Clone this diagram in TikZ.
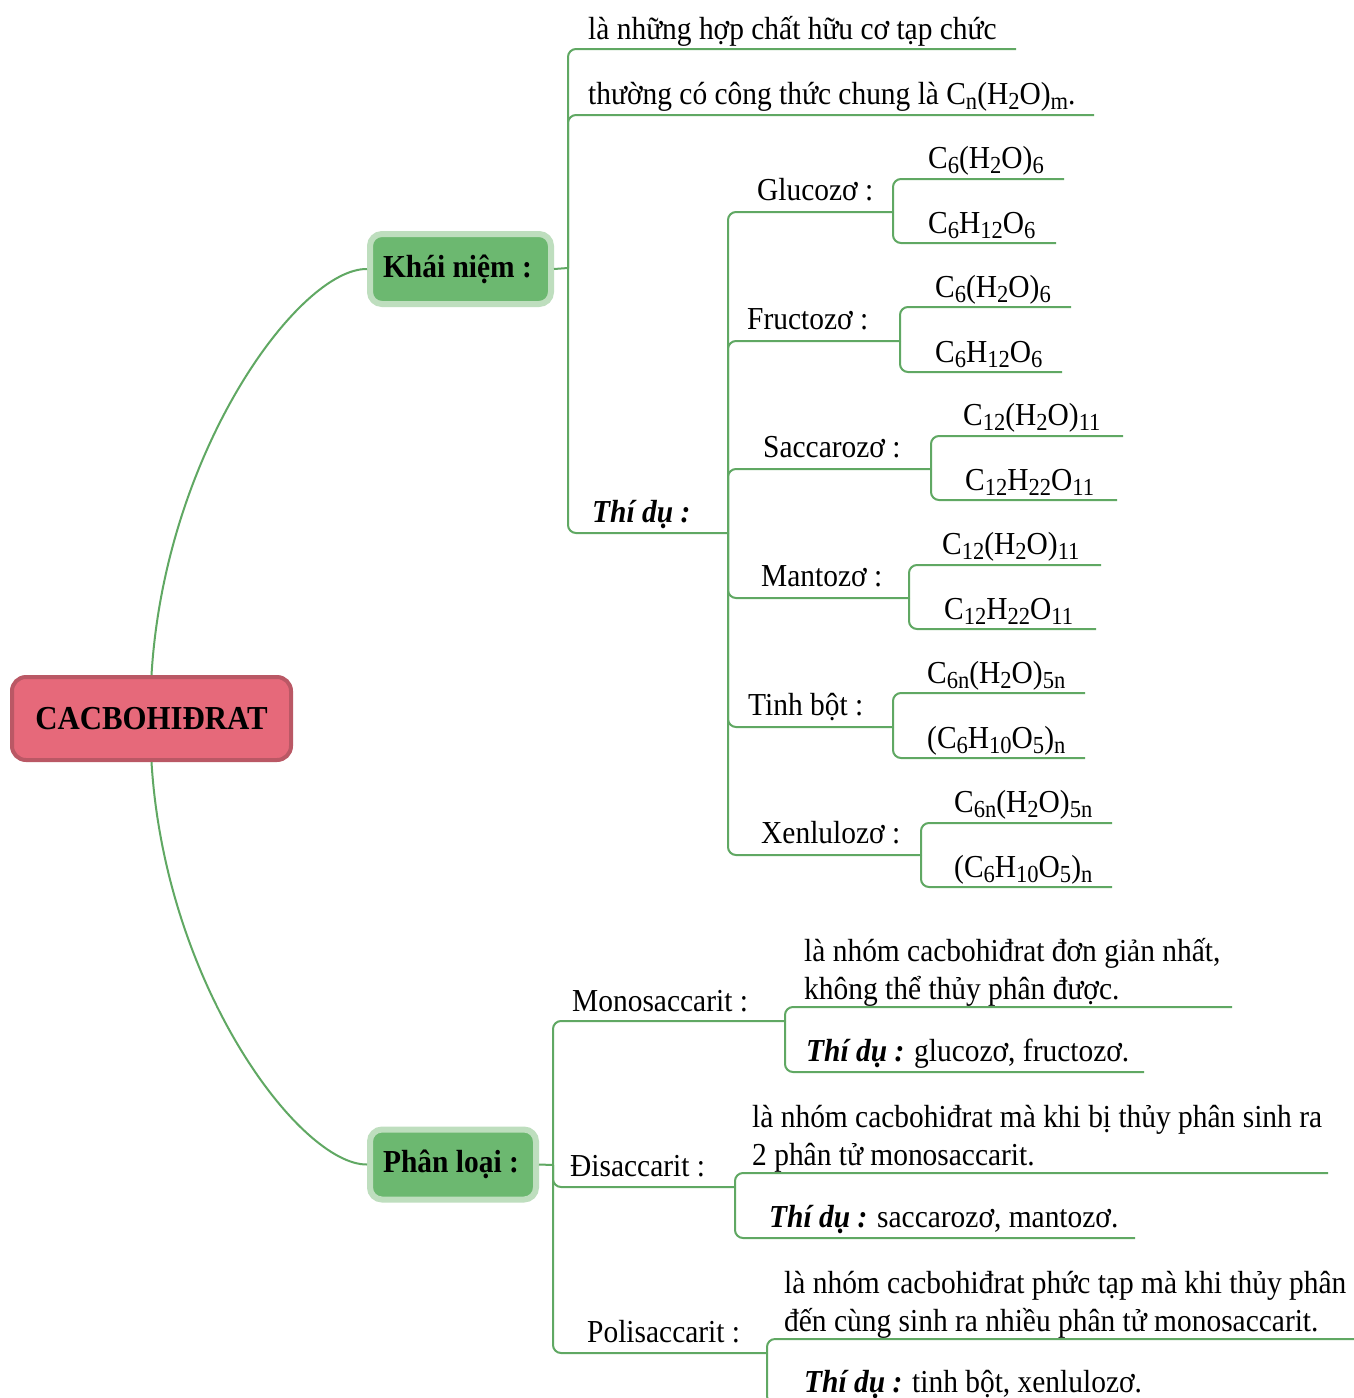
\documentclass[tikz,border=0pt]{standalone}
\usepackage{fontspec}
\setmainfont{Liberation Serif}[FakeStretch=0.92]
\definecolor{rootfill}{RGB}{230,105,122}
\definecolor{rootline}{RGB}{186,88,101}
\definecolor{boxfill}{RGB}{108,184,112}
\definecolor{boxline}{RGB}{190,222,190}
\definecolor{lgreen}{RGB}{96,168,99}
\newcommand\sbs[1]{\raisebox{-5pt}{\fontsize{24.5}{25}\selectfont #1}}
\newcommand\tdu{\textbf{\textit{Thí dụ :}}}
\begin{document}
\begin{tikzpicture}[x=1pt,y=-1pt,
  br/.style={draw=lgreen, line width=2pt, rounded corners=8pt},
  curve/.style={draw=lgreen, line width=2pt},
  txt/.style={anchor=base west, inner sep=0pt, font=\fontsize{32}{38}\selectfont},
  mtxt/.style={txt, align=left},
  rootbox/.style={draw=rootline, fill=rootfill, line width=4pt, rounded corners=14pt,
    minimum width=279pt, minimum height=83pt, inner sep=0pt, font=\fontsize{33.5}{38}\selectfont\bfseries},
  catbox/.style={draw=boxline, fill=boxfill, line width=6pt, rounded corners=12pt,
    minimum height=70pt, inner sep=0pt, font=\fontsize{32}{38}\selectfont\bfseries}]
\useasboundingbox (0,0) rectangle (1354,1398);
\fill[white] (0,0) rectangle (1354,1398);

% main nodes
\node[rootbox] (root) at (151.5,718.5) {CACBOHIĐRAT};
\node[catbox, minimum width=181pt] (kn) at (460.5,269) {Khái niệm :\hspace*{6pt}};
\node[catbox, minimum width=166pt] (pl) at (453,1164.5) {Phân loại :\hspace*{4pt}};

\draw[curve] (root.north) .. controls (165,450) and (300,268) .. (kn.west);
\draw[curve] (root.south) .. controls (165,985) and (300,1165) .. (pl.west);

% ---------- Khai niem ----------
\coordinate (jK) at (568,268);
\draw[br] (kn.east) -- (jK);
\node[txt] (k1) at (588,39) {là những hợp chất hữu cơ tạp chức};
\node[txt] (k2) at (588,104) {thường có công thức chung là C\sbs{n}(H\sbs{2}O)\sbs{m}.};
\node[txt] (td) at (592,522) {\tdu};
\coordinate (k1e) at (1016,49);
\coordinate (k2e) at (1094,115);
\coordinate (jT) at (728,533);
\draw[br] (jK) |- (k1e);
\draw[br] (jK) |- (k2e);
\draw[br] (jK) |- (jT);

% examples
\node[txt] (gl) at (757,200) {Glucozơ :};
\node[txt] (fr) at (747,329) {Fructozơ :};
\node[txt] (sa) at (763,457) {Saccarozơ :};
\node[txt] (ma) at (761,586) {Mantozơ :};
\node[txt] (tb) at (748,715) {Tinh bột :};
\node[txt] (xe) at (761,843) {Xenlulozơ :};
\coordinate (jG) at (893,212);
\coordinate (jF) at (900,341);
\coordinate (jS) at (931,469);
\coordinate (jM) at (909,598);
\coordinate (jB) at (893,727);
\coordinate (jX) at (921,855);
\foreach \j in {jG,jF,jS,jM,jB,jX} \draw[br] (jT) |- (\j);

\node[txt] (gl1) at (928,168) {C\sbs{6}(H\sbs{2}O)\sbs{6}};
\node[txt] (gl2) at (928,233) {C\sbs{6}H\sbs{12}O\sbs{6}};
\coordinate (gl1e) at (1064,179);
\coordinate (gl2e) at (1056,243);
\draw[br] (jG) |- (gl1e); \draw[br] (jG) |- (gl2e);

\node[txt] (fr1) at (935,297) {C\sbs{6}(H\sbs{2}O)\sbs{6}};
\node[txt] (fr2) at (935,362) {C\sbs{6}H\sbs{12}O\sbs{6}};
\coordinate (fr1e) at (1071,307);
\coordinate (fr2e) at (1062,372);
\draw[br] (jF) |- (fr1e); \draw[br] (jF) |- (fr2e);

\node[txt] (sa1) at (963,425) {C\sbs{12}(H\sbs{2}O)\sbs{11}};
\node[txt] (sa2) at (965,490) {C\sbs{12}H\sbs{22}O\sbs{11}};
\coordinate (sa1e) at (1123,436);
\coordinate (sa2e) at (1117,500);
\draw[br] (jS) |- (sa1e); \draw[br] (jS) |- (sa2e);

\node[txt] (ma1) at (942,554) {C\sbs{12}(H\sbs{2}O)\sbs{11}};
\node[txt] (ma2) at (944,619) {C\sbs{12}H\sbs{22}O\sbs{11}};
\coordinate (ma1e) at (1101,565);
\coordinate (ma2e) at (1096,629);
\draw[br] (jM) |- (ma1e); \draw[br] (jM) |- (ma2e);

\node[txt] (tb1) at (927,683) {C\sbs{6n}(H\sbs{2}O)\sbs{5n}};
\node[txt] (tb2) at (927,748) {(C\sbs{6}H\sbs{10}O\sbs{5})\sbs{n}};
\coordinate (tb1e) at (1085,693);
\coordinate (tb2e) at (1085,758);
\draw[br] (jB) |- (tb1e); \draw[br] (jB) |- (tb2e);

\node[txt] (xe1) at (954,812) {C\sbs{6n}(H\sbs{2}O)\sbs{5n}};
\node[txt] (xe2) at (954,877) {(C\sbs{6}H\sbs{10}O\sbs{5})\sbs{n}};
\coordinate (xe1e) at (1112,823);
\coordinate (xe2e) at (1112,887);
\draw[br] (jX) |- (xe1e); \draw[br] (jX) |- (xe2e);

% ---------- Phan loai ----------
\coordinate (jP) at (553,1165);
\draw[br] (pl.east) -- (jP);
\node[txt] (mo) at (572,1011) {Monosaccarit :};
\node[txt] (di) at (570,1176) {Đisaccarit :};
\node[txt] (po) at (587,1342) {Polisaccarit :};
\coordinate (jMo) at (785,1021);
\coordinate (jDi) at (735,1187);
\coordinate (jPo) at (767,1353);
\draw[br] (jP) |- (jMo);
\draw[br] (jP) |- (jDi);
\draw[br] (jP) |- (jPo);

\node[mtxt] (mo1) at (804,999) {là nhóm cacbohiđrat đơn giản nhất,\\không thể thủy phân được.};
\node[txt] (mo2) at (806,1061) {\tdu{} glucozơ, fructozơ.};
\coordinate (mo1e) at (1232,1007);
\coordinate (mo2e) at (1144,1072);
\draw[br] (jMo) |- (mo1e); \draw[br] (jMo) |- (mo2e);

\node[mtxt] (di1) at (752,1165) {là nhóm cacbohiđrat mà khi bị thủy phân sinh ra\\2 phân tử monosaccarit.};
\node[txt] (di2) at (769,1227) {\tdu{} saccarozơ, mantozơ.};
\coordinate (di1e) at (1328,1173);
\coordinate (di2e) at (1135,1238);
\draw[br] (jDi) |- (di1e); \draw[br] (jDi) |- (di2e);

\node[mtxt] (po1) at (784,1331) {là nhóm cacbohiđrat phức tạp mà khi thủy phân\\đến cùng sinh ra nhiều phân tử monosaccarit.};
\node[txt] (po2) at (804,1392) {\tdu{} tinh bột, xenlulozơ.};
\coordinate (po1e) at (1354,1339);
\coordinate (po2e) at (1150,1404);
\draw[br] (jPo) |- (po1e); \draw[br] (jPo) |- (po2e);
\end{tikzpicture}
\end{document}
